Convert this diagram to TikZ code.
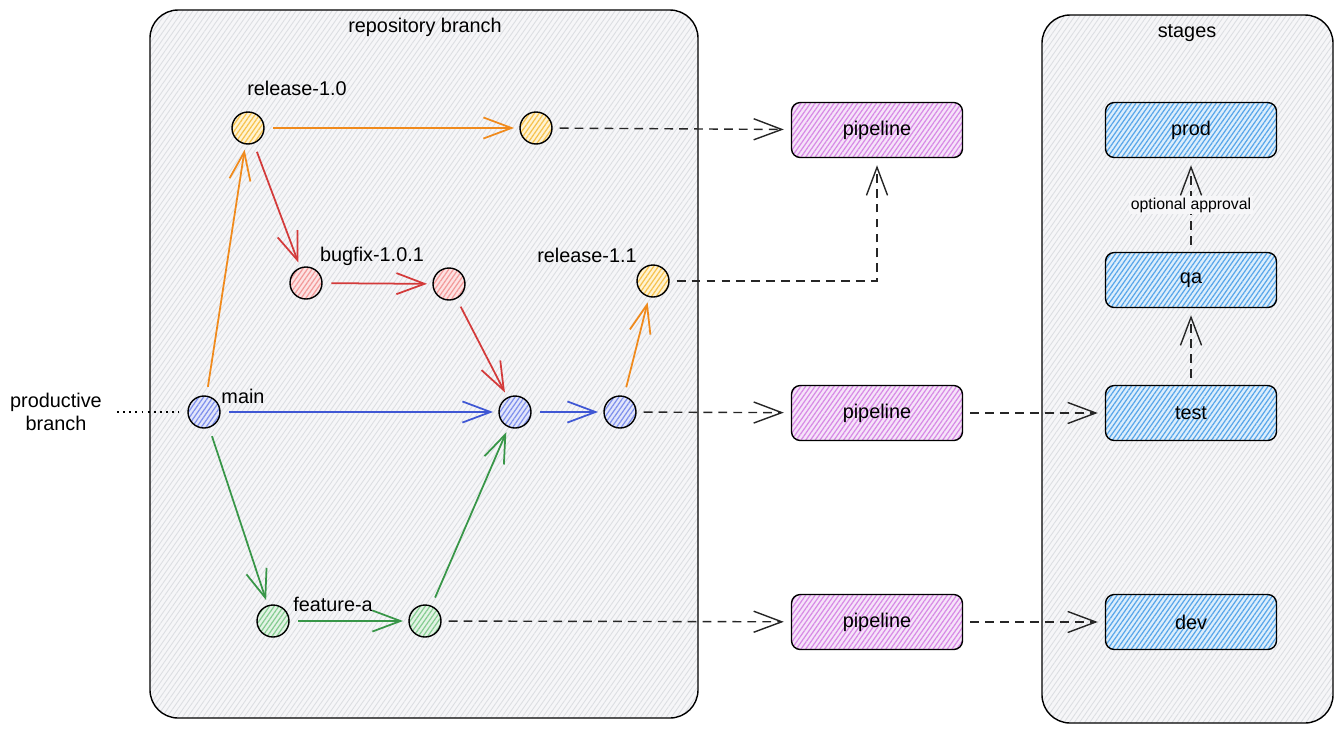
\documentclass[tikz,border=0pt]{standalone}
\usepackage{fontspec}
\setmainfont{Liberation Sans}
\usepackage{xcolor}
\usepackage{tikz}
\usetikzlibrary{arrows.meta,positioning,patterns.meta}

\definecolor{framefill}{HTML}{F6F6F8}
\definecolor{framehatch}{HTML}{DCDEE2}
\definecolor{relcol}{HTML}{F08A1C}
\definecolor{relhatch}{HTML}{F6C24E}
\definecolor{relfill}{HTML}{FFF3D2}
\definecolor{fixcol}{HTML}{D33A3A}
\definecolor{fixhatch}{HTML}{F29A9A}
\definecolor{fixfill}{HTML}{FDE3E3}
\definecolor{maincol}{HTML}{3F57D4}
\definecolor{mainhatch}{HTML}{7F90EC}
\definecolor{mainfill}{HTML}{E2E6FB}
\definecolor{featcol}{HTML}{389648}
\definecolor{feathatch}{HTML}{86CC92}
\definecolor{featfill}{HTML}{E3F4E5}
\definecolor{pipehatch}{HTML}{D78AE6}
\definecolor{pipefill}{HTML}{F6E3F9}
\definecolor{stagehatch}{HTML}{58A6EA}
\definecolor{stagefill}{HTML}{DCEEFC}

\begin{document}
\begin{tikzpicture}[
			x=0.02cm, y=-0.02cm,
			font=\fontsize{11.3}{13.5}\selectfont,
			>={Straight Barb[length=16pt,width=12pt]},
			frame/.style={draw, line width=0.8pt, rounded corners=16pt, preaction={fill=framefill}, pattern={Lines[angle=55,distance=2.4pt,line width=0.5pt]}, pattern color=framehatch},
			commit/.style 2 args={circle, draw, line width=0.8pt, minimum size=0.64cm, inner sep=0pt, preaction={fill=#1}, pattern={Lines[angle=55,distance=2.2pt,line width=0.7pt]}, pattern color=#2},
			box/.style 2 args={draw, line width=0.8pt, rounded corners=5pt, minimum width=3.42cm, minimum height=1.1cm, preaction={fill=#1}, pattern={Lines[angle=55,distance=2.2pt,line width=0.7pt]}, pattern color=#2},
			flow/.style={->, line width=1pt, shorten <=5pt, shorten >=3pt},
			link/.style={->, line width=0.8pt, color=black!85, dash pattern=on 5pt off 3.5pt, shorten <=4pt, shorten >=4pt}
			]
			\useasboundingbox (0,0) rectangle (1343,735);
			
			% containers
			\draw[frame] (150,10) rectangle (698,718);
			\draw[frame] (1042,15) rectangle (1333,723);
			\node (repotitle) at (425,27) {repository branch};
			\node (stagetitle) at (1187,33) {stages};
			
			% commits
			\node[commit={relfill}{relhatch}] (r10) at (248,128) {};
			\node[commit={relfill}{relhatch}] (r10b) at (536,128) {};
			\node[commit={fixfill}{fixhatch}] (bf1) at (306,283) {};
			\node[commit={fixfill}{fixhatch}] (bf2) at (449,284) {};
			\node[commit={mainfill}{mainhatch}] (m1) at (204,412) {};
			\node[commit={mainfill}{mainhatch}] (m2) at (515,412) {};
			\node[commit={mainfill}{mainhatch}] (m3) at (620,412) {};
			\node[commit={relfill}{relhatch}] (r11) at (653,281) {};
			\node[commit={featfill}{feathatch}] (fa1) at (273,621) {};
			\node[commit={featfill}{feathatch}] (fa2) at (425,621) {};
			
			\node (r10lbl) at (297,88) {release-1.0};
			\node (bflbl) at (372,256) {bugfix-1.0.1};
			\node (mainlbl) at (243,396) {main};
			\node (r11lbl) at (587,255) {release-1.1};
			\node (falbl) at (333,604) {feature-a};
			
			\node[align=center] (prodbranch) at (56,412) {productive\\branch};
			\coordinate (pbend) at (117,412);
			
			% pipelines and stages
			\node[box={pipefill}{pipehatch}] (pipe1) at (877,130) {pipeline};
			\node[box={pipefill}{pipehatch}] (pipe2) at (877,413) {pipeline};
			\node[box={pipefill}{pipehatch}] (pipe3) at (877,622) {pipeline};
			\node[box={stagefill}{stagehatch}] (prod) at (1191,130) {prod};
			\node[box={stagefill}{stagehatch}] (qa) at (1191,280) {qa};
			\node[box={stagefill}{stagehatch}] (test) at (1191,413) {test};
			\node[box={stagefill}{stagehatch}] (dev) at (1191,622) {dev};
			
			% branches
			\draw[flow, relcol] (r10) -- (r10b);
			\draw[flow, fixcol] (r10) -- (bf1);
			\draw[flow, fixcol] (bf1) -- (bf2);
			\draw[flow, fixcol] (bf2) -- (m2);
			\draw[flow, relcol] (m1) -- (r10);
			\draw[flow, maincol] (m1) -- (m2);
			\draw[flow, maincol] (m2) -- (m3);
			\draw[flow, relcol] (m3) -- (r11);
			\draw[flow, featcol] (m1) -- (fa1);
			\draw[flow, featcol] (fa1) -- (fa2);
			\draw[flow, featcol] (fa2) -- (m2);
			\draw[line width=0.8pt, dash pattern=on 1pt off 2.5pt, shorten >=5pt] (pbend) -- (m1);
			
			% deployments
			\draw[link] (r10b) -- (pipe1);
			\draw[link] (r11) -| (pipe1);
			\draw[link] (m3) -- (pipe2);
			\draw[link] (fa2) -- (pipe3);
			\draw[link] (pipe2) -- (test);
			\draw[link] (pipe3) -- (dev);
			\draw[link] (test) -- (qa);
			\draw[link] (qa) -- node[fill=framefill, inner sep=1pt, font=\fontsize{9}{11}\selectfont, text=black] (approval) {optional approval} (prod);
		\end{tikzpicture}
\end{document}
